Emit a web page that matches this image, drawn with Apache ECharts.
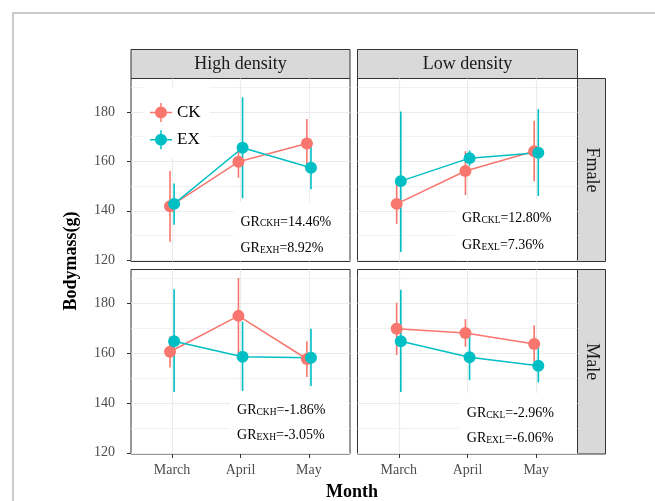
<!DOCTYPE html>
<html>
<head>
<meta charset="utf-8">
<script src="https://cdn.jsdelivr.net/npm/echarts@6/dist/echarts.min.js"></script>
<style>
html, body { margin: 0; padding: 0; background: #fff; }
#main { width: 655px; height: 501px; }
</style>
</head>
<body>
<div id="main"></div>
<script>
// categories
var months = ['March', 'April', 'May'];
var densities = ['High density', 'Low density'];
var sexes = ['Fmale', 'Male'];
var yTicks = [120, 140, 160, 180];
var yMinor = [130, 150, 170, 190];

// [mean, lower, upper] for March, April, May
var ckFmaleHigh = [[141.8, 127.5, 156.1], [159.8, 153.4, 164.8], [167.2, 157.3, 177.1]];
var exFmaleHigh = [[142.8, 134.4, 151.0], [165.5, 145.1, 185.9], [157.4, 148.7, 166.1]];
var ckFmaleLow  = [[142.8, 134.7, 150.7], [156.1, 146.4, 164.1], [164.1, 152.0, 176.4]];
var exFmaleLow  = [[152.0, 123.3, 180.2], [161.3, 158.2, 164.4], [163.5, 146.0, 181.1]];
var ckMaleHigh  = [[160.5, 154.2, 166.6], [174.9, 159.7, 190.1], [157.6, 150.4, 164.7]];
var exMaleHigh  = [[164.7, 144.4, 185.6], [158.5, 144.8, 172.6], [158.1, 146.8, 169.7]];
var ckMaleLow   = [[169.7, 159.2, 180.2], [168.0, 162.5, 173.6], [163.6, 156.5, 171.0]];
var exMaleLow   = [[164.7, 144.4, 185.4], [158.3, 149.1, 167.0], [154.9, 148.2, 163.2]];

// growth rate labels per panel (Fmale-High, Fmale-Low, Male-High, Male-Low)
var grTagCK = ['CKH', 'CKL', 'CKH', 'CKL'];
var grTagEX = ['EXH', 'EXL', 'EXH', 'EXL'];
var grCK = ['14.46%', '12.80%', '-1.86%', '-2.96%'];
var grEX = ['8.92%', '7.36%', '-3.05%', '-6.06%'];

var ckPanels = [ckFmaleHigh, ckFmaleLow, ckMaleHigh, ckMaleLow];
var exPanels = [exFmaleHigh, exFmaleLow, exMaleHigh, exMaleLow];

// layout
var colLeft = [131, 357.5], colWidth = [219, 220];
var rowTop = [78.5, 269.5], rowHeight = [183, 184.5];
var yMin = 119.5, yMax = 193.5;
var dodge = 0.03;
var annotPos = [[2.0, 135.5, 124.8], [1.92, 136.8, 126.1], [1.95, 137.1, 126.9], [1.99, 135.9, 125.6]];

var colorCK = '#F8766D', colorEX = '#00BFC4';
var serif = 'Liberation Serif';

var chart = echarts.init(document.getElementById('main'));

var grids = [], xAxes = [], yAxes = [], series = [];
for (var p = 0; p < 4; p++) {
    var r = Math.floor(p / 2), c = p % 2;
    grids.push({
        left: colLeft[c], top: rowTop[r], width: colWidth[c], height: rowHeight[r],
        show: true, borderColor: '#333', borderWidth: 1, backgroundColor: '#fff',
        outerBoundsMode: 'none'
    });
    xAxes.push({
        type: 'value', gridIndex: p, min: 0.4, max: 3.6,
        axisLine: { show: false },
        axisTick: { show: r == 1, customValues: [1, 2, 3], length: 4, lineStyle: { color: '#333' } },
        axisLabel: {
            show: r == 1, customValues: [1, 2, 3], margin: 9,
            fontFamily: serif, fontSize: 14, color: '#4d4d4d',
            formatter: function (v) { return months[Math.round(v) - 1]; }
        },
        splitLine: { show: true, lineStyle: { color: '#ebebeb', width: 1.1 } }
    });
    yAxes.push({
        type: 'value', gridIndex: p, min: yMin, max: yMax, position: 'left',
        axisLine: { show: false },
        axisTick: { show: c == 0, customValues: yTicks, length: 4, lineStyle: { color: '#333' } },
        axisLabel: { show: c == 0, customValues: yTicks, margin: 16, fontFamily: serif, fontSize: 14, color: '#4d4d4d' },
        splitLine: { show: true, lineStyle: { color: '#ebebeb', width: 1.1 } }
    });
    yAxes.push({
        type: 'value', gridIndex: p, min: yMin, max: yMax, position: 'left',
        axisLine: { show: false },
        axisTick: { show: false, customValues: yMinor },
        axisLabel: { show: false },
        splitLine: { show: true, lineStyle: { color: '#efefef', width: 0.8 } }
    });

    // white label box with growth rates
    (function (pi) {
        series.push({
            type: 'custom', name: 'gr', xAxisIndex: pi, yAxisIndex: pi * 2, z: 1, silent: true,
            data: [annotPos[pi]],
            encode: { x: 0, y: [1, 2] },
            renderItem: function (params, api) {
                var cs = params.coordSys;
                var p1 = api.coord([api.value(0), api.value(1)]);
                var p2 = api.coord([api.value(0), api.value(2)]);
                var rich = {
                    a: { fontFamily: serif, fontSize: 14, lineHeight: 14, color: '#1a1a1a', verticalAlign: 'bottom' },
                    b: { fontFamily: serif, fontSize: 9.5, lineHeight: 9.5, color: '#1a1a1a', verticalAlign: 'bottom' }
                };
                return {
                    type: 'group',
                    children: [
                        { type: 'rect', shape: { x: p1[0] - 7, y: p1[1] - 20, width: cs.x + cs.width - 1 - (p1[0] - 7), height: cs.y + cs.height - 1 - (p1[1] - 20) }, style: { fill: '#fff' } },
                        { type: 'text', x: p1[0], y: p1[1], style: { text: '{a|GR}{b|' + grTagCK[pi] + '}{a|=' + grCK[pi] + '}', rich: rich, verticalAlign: 'middle', align: 'left' } },
                        { type: 'text', x: p2[0], y: p2[1], style: { text: '{a|GR}{b|' + grTagEX[pi] + '}{a|=' + grEX[pi] + '}', rich: rich, verticalAlign: 'middle', align: 'left' } }
                    ]
                };
            }
        });
    })(p);

    var groups = [['CK', ckPanels[p], colorCK, -dodge], ['EX', exPanels[p], colorEX, dodge]];
    groups.forEach(function (g) {
        var pts = g[1].map(function (d, i) { return [i + 1 + g[3], d[0]]; });
        var bars = g[1].map(function (d, i) { return [i + 1 + g[3], d[1], d[2]]; });
        var col = g[2];
        series.push({
            type: 'custom', name: g[0] + ' err', xAxisIndex: p, yAxisIndex: p * 2, z: 3, silent: true,
            data: bars,
            encode: { x: 0, y: [1, 2] },
            renderItem: function (params, api) {
                var a = api.coord([api.value(0), api.value(1)]);
                var b = api.coord([api.value(0), api.value(2)]);
                return { type: 'line', shape: { x1: a[0], y1: a[1], x2: b[0], y2: b[1] }, style: { stroke: col, lineWidth: 1.6 } };
            }
        });
        series.push({
            type: 'line', name: g[0], xAxisIndex: p, yAxisIndex: p * 2, z: 4,
            data: pts, symbol: 'circle', symbolSize: 12, animation: false,
            itemStyle: { color: col, borderWidth: 0 },
            lineStyle: { color: col, width: 1.5 }
        });
    });
}

var keyIcon = 'path://M0,8.75H22V10.25H0Z M10.25,0H11.75V19H10.25Z M5,9.5A6,6 0 1,1 17,9.5A6,6 0 1,1 5,9.5Z';

var graphics = [
    { type: 'rect', shape: { x: 13, y: 13, width: 700, height: 600 }, style: { fill: 'none', stroke: '#b8b8b8', lineWidth: 1.4 }, silent: true }
];
for (var c2 = 0; c2 < 2; c2++) {
    graphics.push({ type: 'rect', shape: { x: colLeft[c2], y: 49.5, width: colWidth[c2], height: 29 }, style: { fill: '#d9d9d9', stroke: '#333', lineWidth: 1 } });
    graphics.push({ type: 'text', x: colLeft[c2] + colWidth[c2] / 2, y: 64.5, style: { text: densities[c2], fontFamily: serif, fontSize: 18, fill: '#1a1a1a', align: 'center', verticalAlign: 'middle' } });
}
for (var r2 = 0; r2 < 2; r2++) {
    graphics.push({ type: 'rect', shape: { x: 577.5, y: rowTop[r2], width: 28, height: rowHeight[r2] }, style: { fill: '#d9d9d9', stroke: '#333', lineWidth: 1 } });
    graphics.push({ type: 'text', x: 591.5, y: rowTop[r2] + rowHeight[r2] / 2, rotation: -Math.PI / 2, style: { text: sexes[r2], fontFamily: serif, fontSize: 18, fill: '#1a1a1a', align: 'center', verticalAlign: 'middle' } });
}
graphics.push({ type: 'text', x: 71.5, y: 261, rotation: Math.PI / 2, style: { text: 'Bodymass(g)', fontFamily: serif, fontSize: 18, fontWeight: 'bold', fill: '#000', align: 'center', verticalAlign: 'middle' } });
graphics.push({ type: 'text', x: 352, y: 492, style: { text: 'Month', fontFamily: serif, fontSize: 18, fontWeight: 'bold', fill: '#000', align: 'center', verticalAlign: 'middle' } });

chart.setOption({
    animation: false,
    backgroundColor: '#fff',
    grid: grids,
    xAxis: xAxes,
    yAxis: yAxes,
    legend: {
        left: 143, top: 87, orient: 'vertical',
        padding: [16, 9, 9, 7], itemGap: 8.3, itemWidth: 22, itemHeight: 19,
        backgroundColor: '#fff',
        itemStyle: { borderWidth: 0 },
        textStyle: { fontFamily: serif, fontSize: 17, color: '#000' },
        data: [{ name: 'CK', icon: keyIcon }, { name: 'EX', icon: keyIcon }]
    },
    graphic: graphics,
    series: series
});
</script>
</body>
</html>
